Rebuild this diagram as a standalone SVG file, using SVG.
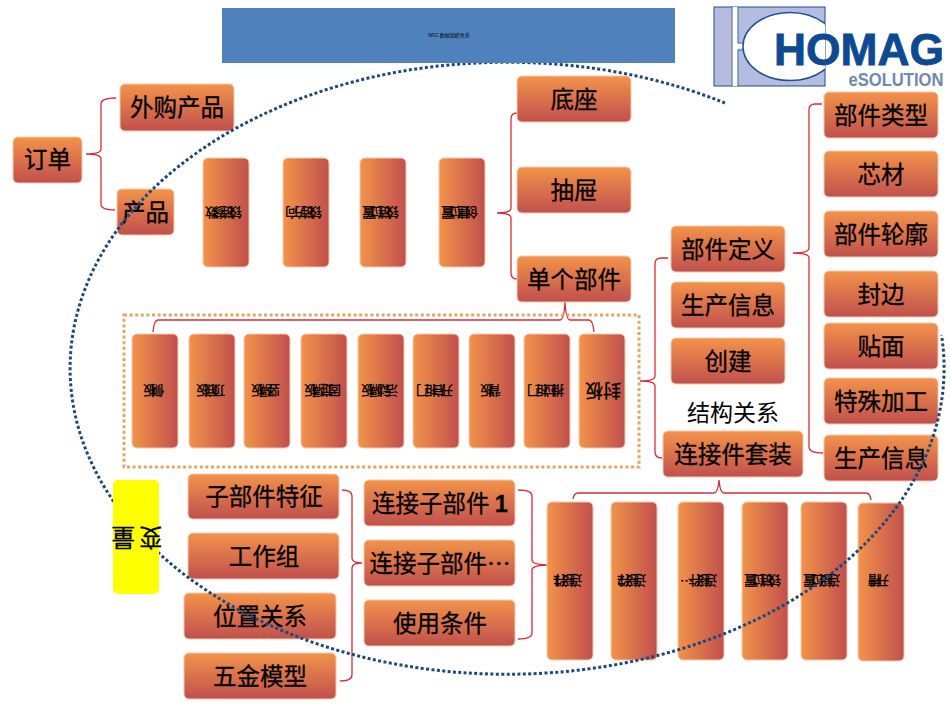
<svg xmlns="http://www.w3.org/2000/svg" width="950" height="713" viewBox="0 0 950 713">
<style>
text{font-family:"Noto Sans CJK SC","Liberation Sans",sans-serif;fill:#000;text-anchor:middle}
.v{fill:url(#gv);stroke:#f6c9ab;stroke-width:1}
.h{fill:url(#gh);stroke:#f6c9ab;stroke-width:1}
.l{font-size:23.5px;stroke:#000;stroke-width:.3px}
.s{font-size:13px;letter-spacing:-5px;stroke:#000;stroke-width:.3px}
.b{fill:none;stroke:#dc2b35;stroke-width:1.3}
</style>
<defs>
<linearGradient id="gv" x1="0" y1="0" x2="0" y2="1"><stop offset="0" stop-color="#f3934a"/><stop offset="1" stop-color="#c0504d"/></linearGradient>
<linearGradient id="gh" x1="0" y1="0" x2="1" y2="0"><stop offset="0" stop-color="#f3934a"/><stop offset="1" stop-color="#c0504d"/></linearGradient>
<clipPath id="lc"><rect x="714" y="7" width="111" height="79"/></clipPath>
</defs>
<rect width="950" height="713" fill="#fff"/>
<g id="connectors">
<path class="b" d="M116 98Q101 98 101 104V149Q101 154 86 154Q101 154 101 159V204Q101 210 115 210"/>
<path class="b" d="M517 113Q511 113 511 119V208Q511 213 497 213Q511 213 511 218V273Q511 279 517 279"/>
<path class="b" d="M153 332Q154 320 158 320H560Q564 320 565 302Q566 320 570 320H589Q593 320 594 332"/>
<path class="b" d="M668 258H661Q655 258 655 264V376Q655 381 640 381Q655 381 655 386V452Q655 458 662 458"/>
<path class="b" d="M822 104H815Q809 104 809 110V248Q809 253 793 253Q809 253 809 258V447Q809 453 823 453"/>
<path class="b" d="M573 499Q574 493 578 493H714Q718 493 719 480Q720 493 724 493H866Q870 493 871 500"/>
<path class="b" d="M342 490Q352 490 352 496V558Q352 563 362 563Q352 563 352 568V675Q352 681 340 681"/>
<path class="b" d="M518 490Q532 490 532 496V560Q532 565 550 565Q532 565 532 570V633Q532 639 518 639"/>
<rect x="124" y="315" width="515" height="152" fill="none" stroke="#e9a463" stroke-width="3" stroke-dasharray="3 2.6"/>
</g>
<g id="order"><rect class="v" x="13" y="137" width="69" height="46" rx="5"/><text class="l" x="47.500" y="168">订单</text></g>
<g id="bought"><rect class="v" x="120" y="84" width="114" height="47" rx="5"/><text class="l" x="177" y="116">外购产品</text></g>
<g id="product"><rect class="v" x="117" y="189" width="57" height="46" rx="5"/><text class="l" x="145.500" y="221">产品</text></g>
<g id="t1"><rect class="h" x="203" y="158" width="46" height="109" rx="5"/><text class="s" transform="rotate(180 226 212)" x="226" y="216">铰链参数</text></g>
<g id="t2"><rect class="h" x="283" y="158" width="46" height="109" rx="5"/><text class="s" transform="rotate(180 306 212)" x="306" y="216">铰链方向</text></g>
<g id="t3"><rect class="h" x="360" y="158" width="46" height="109" rx="5"/><text class="s" transform="rotate(180 383 212)" x="383" y="216">铰链位置</text></g>
<g id="t4"><rect class="h" x="439" y="158" width="46" height="109" rx="5"/><text class="s" transform="rotate(180 462 212)" x="462" y="216">创建位置</text></g>
<g id="base"><rect class="v" x="517" y="76" width="114" height="46" rx="5"/><text class="l" x="574" y="108">底座</text></g>
<g id="drawer"><rect class="v" x="517" y="167" width="114" height="46" rx="5"/><text class="l" x="574" y="199">抽屉</text></g>
<g id="single"><rect class="v" x="517" y="256" width="114" height="46" rx="5"/><text class="l" x="574" y="288">单个部件</text></g>
<g id="p1"><rect class="h" x="132" y="334" width="46" height="114" rx="5"/><text class="s" transform="rotate(180 156 390)" x="156" y="394">侧板</text></g>
<g id="p2"><rect class="h" x="189" y="334" width="46" height="114" rx="5"/><text class="s" transform="rotate(180 213 390)" x="213" y="394">顶底板</text></g>
<g id="p3"><rect class="h" x="244" y="334" width="46" height="114" rx="5"/><text class="s" transform="rotate(180 268 390)" x="268" y="394">竖隔板</text></g>
<g id="p4"><rect class="h" x="301" y="334" width="46" height="114" rx="5"/><text class="s" transform="rotate(180 325 390)" x="325" y="394">固定隔板</text></g>
<g id="p5"><rect class="h" x="358" y="334" width="46" height="114" rx="5"/><text class="s" transform="rotate(180 382 390)" x="382" y="394">活动隔板</text></g>
<g id="p6"><rect class="h" x="413" y="334" width="46" height="114" rx="5"/><text class="s" transform="rotate(180 437 390)" x="437" y="394">开启柜门</text></g>
<g id="p7"><rect class="h" x="469" y="334" width="46" height="114" rx="5"/><text class="s" transform="rotate(180 493 390)" x="493" y="394">背板</text></g>
<g id="p8"><rect class="h" x="524" y="334" width="46" height="114" rx="5"/><text class="s" transform="rotate(180 548 390)" x="548" y="394">推拉柜门</text></g>
<g id="p9"><rect class="h" x="579" y="334" width="46" height="114" rx="5"/><text transform="rotate(180 603 390)" x="603" y="396" font-size="18" stroke="#000" stroke-width=".3">封板</text></g>
<g id="def"><rect class="v" x="671" y="226" width="114" height="46" rx="5"/><text class="l" x="728" y="258">部件定义</text></g>
<g id="info"><rect class="v" x="671" y="282" width="114" height="46" rx="5"/><text class="l" x="728" y="314">生产信息</text></g>
<g id="create"><rect class="v" x="671" y="338" width="114" height="46" rx="5"/><text class="l" x="728" y="370">创建</text></g>
<g id="relation"><text x="733" y="421" font-size="23">结构关系</text></g>
<g id="kit"><rect class="v" x="663" y="431" width="140" height="46" rx="5"/><text class="l" x="733" y="463">连接件套装</text></g>
<g id="r1"><rect class="v" x="824" y="92" width="114" height="46" rx="5"/><text class="l" x="881" y="124">部件类型</text></g>
<g id="r2"><rect class="v" x="824" y="151" width="114" height="46" rx="5"/><text class="l" x="881" y="183">芯材</text></g>
<g id="r3"><rect class="v" x="824" y="211" width="114" height="46" rx="5"/><text class="l" x="881" y="243">部件轮廓</text></g>
<g id="r4"><rect class="v" x="824" y="271" width="114" height="46" rx="5"/><text class="l" x="881" y="303">封边</text></g>
<g id="r5"><rect class="v" x="824" y="323" width="114" height="46" rx="5"/><text class="l" x="881" y="355">贴面</text></g>
<g id="r6"><rect class="v" x="824" y="378" width="114" height="46" rx="5"/><text class="l" x="881" y="410">特殊加工</text></g>
<g id="r7"><rect class="v" x="824" y="435" width="114" height="46" rx="5"/><text class="l" x="881" y="467">生产信息</text></g>
<g id="c1"><rect class="v" x="188" y="474" width="151" height="45" rx="5"/><text class="l" x="264" y="505">子部件特征</text></g>
<g id="c2"><rect class="v" x="188" y="533" width="151" height="46" rx="5"/><text class="l" x="264" y="565">工作组</text></g>
<g id="c3"><rect class="v" x="184" y="593" width="152" height="46" rx="5"/><text class="l" x="260" y="625">位置关系</text></g>
<g id="c4"><rect class="v" x="184" y="653" width="152" height="46" rx="5"/><text class="l" x="260" y="685">五金模型</text></g>
<g id="d1"><rect class="v" x="364" y="480" width="151" height="46" rx="5"/><text class="l" x="440" y="512">连接子部件 <tspan style="font-family:'Liberation Sans'" font-weight="bold">1</tspan></text></g>
<g id="d2"><rect class="v" x="364" y="540" width="151" height="46" rx="5"/><text class="l" x="440" y="572">连接子部件…</text></g>
<g id="d3"><rect class="v" x="364" y="600" width="151" height="46" rx="5"/><text class="l" x="440" y="632">使用条件</text></g>
<g id="e1"><rect class="h" x="547" y="502" width="46" height="158" rx="5"/><text class="s" transform="rotate(180 570 580)" x="570" y="584">连接件 1</text></g>
<g id="e2"><rect class="h" x="611" y="502" width="46" height="158" rx="5"/><text class="s" transform="rotate(180 634 580)" x="634" y="584">连接件 2</text></g>
<g id="e3"><rect class="h" x="678" y="502" width="46" height="158" rx="5"/><text class="s" transform="rotate(180 701 580)" x="701" y="584">连接件…</text></g>
<g id="e4"><rect class="h" x="742" y="502" width="46" height="158" rx="5"/><text class="s" transform="rotate(180 765 580)" x="765" y="584">铰链位置</text></g>
<g id="e5"><rect class="h" x="801" y="502" width="46" height="158" rx="5"/><text class="s" transform="rotate(180 824 580)" x="824" y="584">连接位置</text></g>
<g id="e6"><rect class="h" x="858" y="503" width="46" height="158" rx="5"/><text class="s" transform="rotate(180 881 580)" x="881" y="584">开槽</text></g>
<path id="scope" d="M725 103A437 306 0 1 0 941.500 335" fill="none" stroke="#1f497d" stroke-width="3" stroke-dasharray="3 2.400"/>
<g id="title"><rect x="222" y="8" width="453" height="55" fill="#4f81bd"/><text x="449" y="37" font-size="5">WCC 数据组织关系</text></g>
<g id="variable"><rect x="113" y="480" width="46" height="114" rx="5" fill="#ff0"/><text class="l" transform="rotate(180 135 537)" x="135" y="545" letter-spacing="4">变量</text></g>
<g id="logo">
<rect x="714" y="7" width="111" height="79" fill="#b4bcdf" stroke="#1d4f96" stroke-width="1"/>
<path d="M735 7V46H745M735 86V46" fill="none" stroke="#fff" stroke-width="5"/>
<path d="M732 7V86M738 7V43H745M738 86V50H745" fill="none" stroke="#1d4f96" stroke-width=".7"/>
<ellipse cx="790" cy="46.500" rx="47" ry="34" fill="#fff" stroke="#1d4f96" stroke-width="1.500" clip-path="url(#lc)"/>
<text x="859" y="65" font-size="44" font-weight="bold" stroke="#0d4a92" stroke-width=".8" style="font-family:'Liberation Sans';fill:#0d4a92" textLength="170" lengthAdjust="spacingAndGlyphs">HOMAG</text>
<text x="896" y="86" font-size="18" font-weight="bold" style="font-family:'Liberation Sans';fill:#7189b0" textLength="95" lengthAdjust="spacingAndGlyphs">eSOLUTION</text>
</g>
</svg>
